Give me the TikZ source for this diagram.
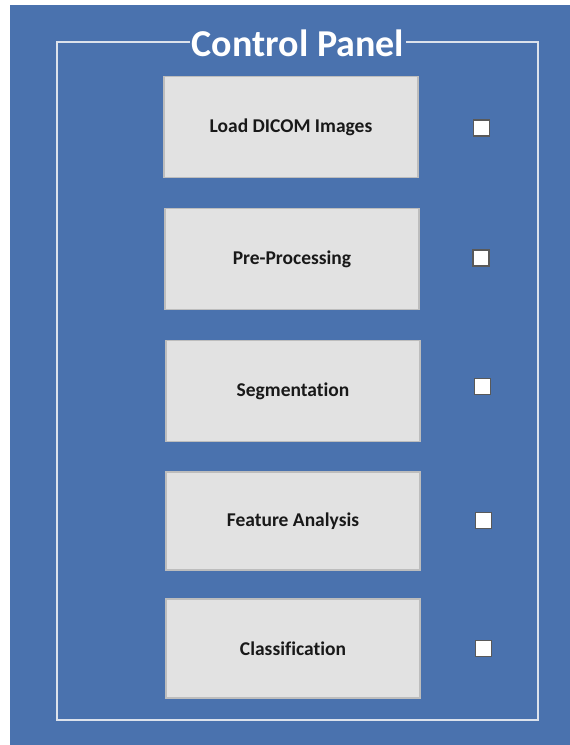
\documentclass[tikz,border=0pt]{standalone}
\usepackage{fontspec}
\setmainfont{Carlito}[Ligatures=NoCommon]
\definecolor{panelblue}{HTML}{4A72AE}
\definecolor{btnfill}{HTML}{E2E2E2}
\definecolor{btnedge}{HTML}{BDBDBD}
\definecolor{framecol}{HTML}{DCE2EC}
\tikzset{
  btn/.style={draw=btnedge, line width=1.2pt, fill=btnfill, inner sep=0pt,
    minimum width=254pt, minimum height=101pt,
    font=\fontsize{19.5}{23}\selectfont\bfseries, text=black!90},
  chk/.style={draw=black!65, line width=1.3pt, fill=white, inner sep=0pt,
    minimum size=16pt},
  ttl/.style={fill=panelblue, text=white, inner xsep=2pt, inner ysep=1pt,
    font=\fontsize{38}{44}\selectfont\bfseries}
}
\begin{document}
\begin{tikzpicture}[x=1pt,y=-1pt]
  \useasboundingbox (0,0) rectangle (570,745);
  % background panel
  \fill[white] (0,0) rectangle (570,745);
  \fill[panelblue] (10,5) rectangle (570,745);
  % frame around the controls
  \draw[framecol, line width=1.8pt] (57,42) rectangle (538,720);
  \node[ttl] (title) at (298,43) {Control Panel};
  % buttons
  \node[btn] (b1) at (291,127) {Load DICOM Images};
  \node[btn] (b2) at (292,259) {Pre-Processing};
  \node[btn] (b3) at (293,391) {Segmentation};
  \node[btn, minimum height=98pt] (b4) at (293,521) {Feature Analysis};
  \node[btn, minimum height=99pt] (b5) at (293,648.5) {Classification};
  % check boxes
  \node[chk] (c1) at (481.5,128) {};
  \node[chk] (c2) at (481,258) {};
  \node[chk] (c3) at (482.5,386.5) {};
  \node[chk] (c4) at (483.5,520.5) {};
  \node[chk] (c5) at (483.5,648.5) {};
\end{tikzpicture}
\end{document}
